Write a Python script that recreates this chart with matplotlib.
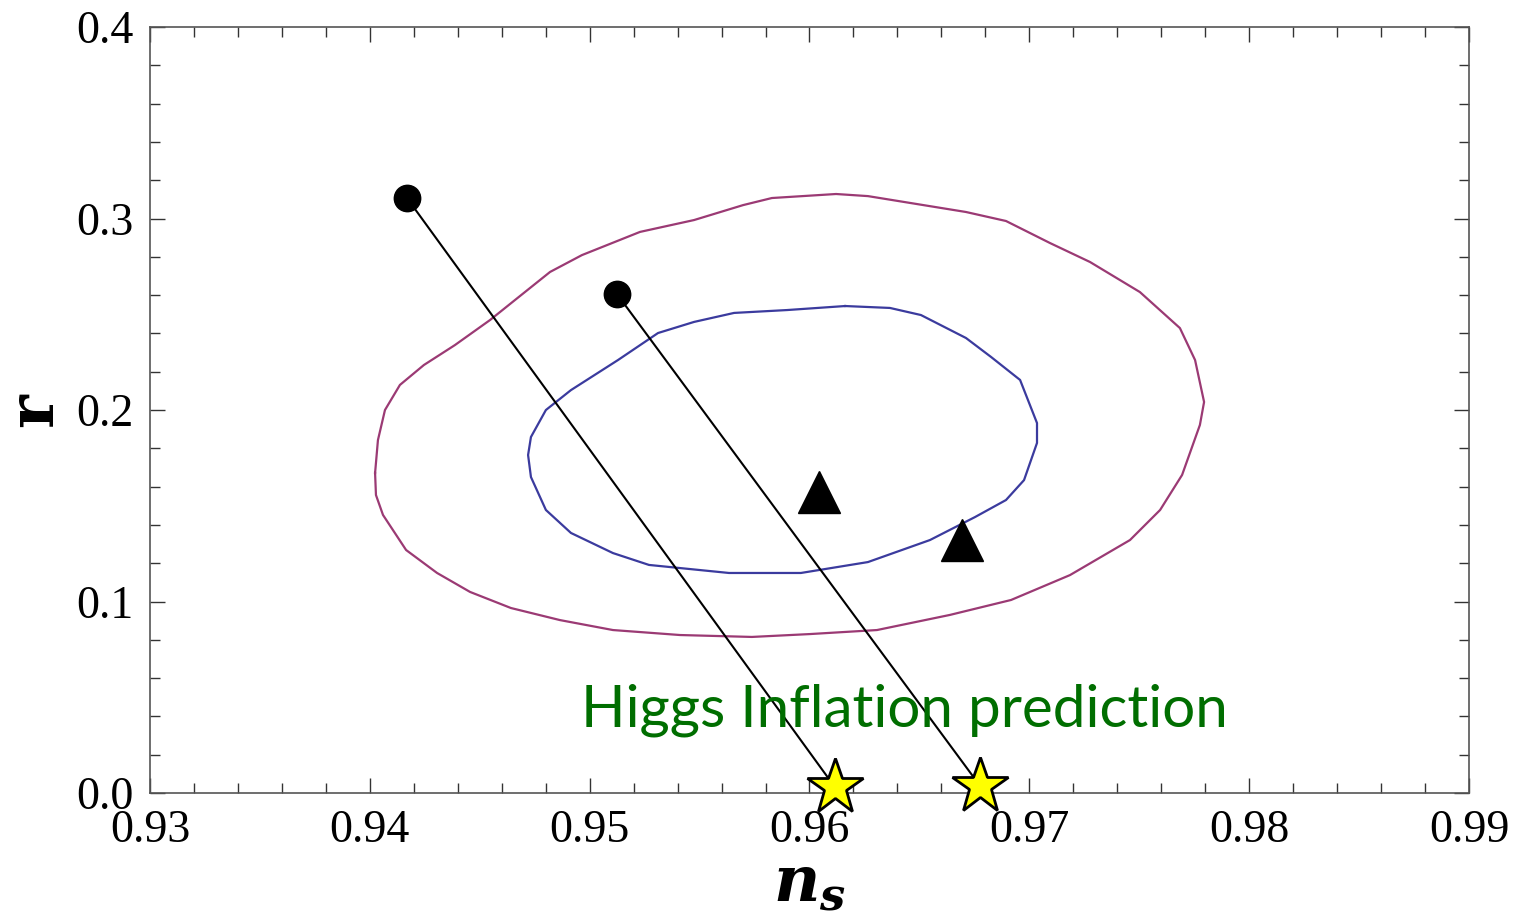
import numpy as np
import matplotlib
matplotlib.use('Agg')
import matplotlib.pyplot as plt
from matplotlib.ticker import MultipleLocator

plt.rcParams['mathtext.fontset'] = 'custom'
plt.rcParams['mathtext.it'] = 'DejaVu Serif:italic:bold'
plt.rcParams['mathtext.rm'] = 'DejaVu Serif:bold'

# outer (2 sigma) contour, n_s / r
outer_ns = [0.94024, 0.94037, 0.94069, 0.94137, 0.94246, 0.94387, 0.94547, 0.94660,
            0.94820, 0.94965, 0.95229, 0.95475, 0.95698, 0.95829, 0.96121, 0.96266,
            0.96712, 0.96894, 0.97094, 0.97276, 0.97503, 0.97685, 0.97754, 0.97795,
            0.97776, 0.97695, 0.97595, 0.97458, 0.97185, 0.96917, 0.96639, 0.96307,
            0.96002, 0.95738, 0.95411, 0.95106, 0.94865, 0.94642, 0.94456, 0.94306,
            0.94165, 0.94060, 0.94028]
outer_r = [0.1671, 0.1843, 0.2000, 0.2131, 0.2235, 0.2339, 0.2470, 0.2574,
           0.2721, 0.2809, 0.2930, 0.2992, 0.3070, 0.3107, 0.3128, 0.3117,
           0.3034, 0.2987, 0.2872, 0.2773, 0.2616, 0.2428, 0.2261, 0.2042,
           0.1922, 0.1661, 0.1478, 0.1321, 0.1138, 0.1008, 0.0930, 0.0851,
           0.0830, 0.0815, 0.0825, 0.0851, 0.0903, 0.0966, 0.1050, 0.1149,
           0.1269, 0.1452, 0.1556]

# inner (1 sigma) contour
inner_ns = [0.96162, 0.95898, 0.95657, 0.95475, 0.95311, 0.95129, 0.94915, 0.94801,
            0.94733, 0.94720, 0.94733, 0.94801, 0.94915, 0.95106, 0.95270, 0.95634,
            0.95961, 0.96266, 0.96548, 0.96753, 0.96894, 0.96976, 0.97035, 0.97035,
            0.96958, 0.96826, 0.96712, 0.96507, 0.96366]
inner_r = [0.2543, 0.2522, 0.2507, 0.2460, 0.2402, 0.2261, 0.2104, 0.2000,
           0.1859, 0.1765, 0.1650, 0.1478, 0.1358, 0.1253, 0.1191, 0.1149,
           0.1149, 0.1206, 0.1321, 0.1441, 0.1530, 0.1634, 0.1828, 0.1932,
           0.2157, 0.2277, 0.2376, 0.2496, 0.2533]

# model start points (circles) and Higgs inflation end points (stars)
start_ns = [0.94169, 0.95124]
start_r = [0.3107, 0.2606]
higgs_ns = [0.96116, 0.96776]
higgs_r = [0.0030, 0.0037]

# triangles
tri_ns = [0.96043, 0.96694]
tri_r = [0.157, 0.132]

fig = plt.figure(figsize=(15.21, 9.22), dpi=100)
ax = fig.add_axes([0.0986, 0.1399, 0.8672, 0.8308])

ax.plot(outer_ns + outer_ns[:1], outer_r + outer_r[:1], color='#9b3a74', lw=1.6)
ax.plot(inner_ns + inner_ns[:1], inner_r + inner_r[:1], color='#3b3b9e', lw=1.6)

for i in range(2):
    ax.plot([start_ns[i], higgs_ns[i]], [start_r[i], higgs_r[i]], color='black', lw=1.5, zorder=3)

ax.plot(start_ns, start_r, 'o', color='black', ms=19, zorder=4)
ax.plot(tri_ns, tri_r, '^', color='black', ms=30, zorder=4)
ax.plot(higgs_ns, higgs_r, '*', color='#ffff00', mec='black', mew=2, ms=42,
        zorder=5, clip_on=False, linestyle='none')

ax.text(0.9643, 0.0433, 'Higgs Inflation prediction', color='#006e00',
        fontsize=42, family='Lato', ha='center', va='center')

ax.set_xlim(0.93, 0.99)
ax.set_ylim(0.0, 0.4)
ax.xaxis.set_major_locator(MultipleLocator(0.01))
ax.xaxis.set_minor_locator(MultipleLocator(0.002))
ax.yaxis.set_major_locator(MultipleLocator(0.1))
ax.yaxis.set_minor_locator(MultipleLocator(0.02))
ax.set_xticklabels([f'{v:.2f}' for v in ax.get_xticks()])
ax.set_yticklabels([f'{v:.1f}' for v in ax.get_yticks()])
ax.tick_params(which='both', direction='in', top=True, right=True,
               labelsize=33, color='#333333')
ax.tick_params(which='major', length=11, width=1)
ax.tick_params(which='minor', length=7, width=1)
for lab in ax.get_xticklabels() + ax.get_yticklabels():
    lab.set_family('Liberation Serif')
ax.tick_params(axis='x', pad=12)
ax.tick_params(axis='y', pad=12)
for sp in ax.spines.values():
    sp.set_linewidth(1.2)
    sp.set_color('#555555')

ax.set_xlabel(r'$n_s$', fontsize=46, labelpad=0)
ax.set_ylabel('r', fontsize=46, family='DejaVu Serif', weight='bold', labelpad=8)

fig.savefig('out.png', dpi=100)
